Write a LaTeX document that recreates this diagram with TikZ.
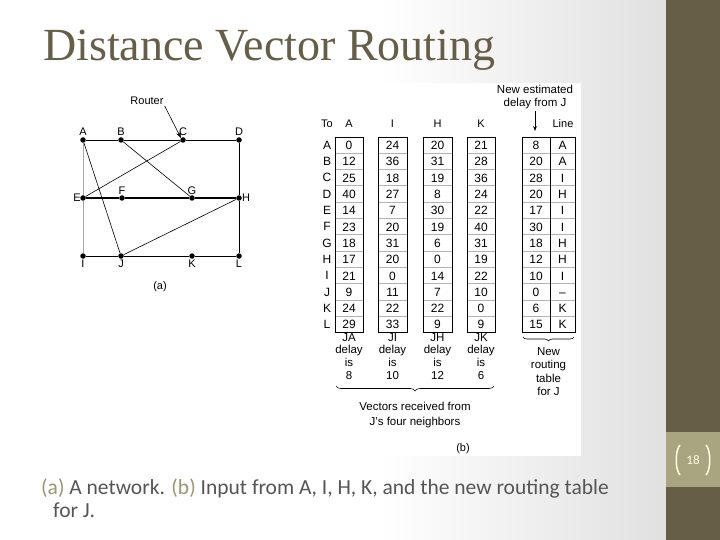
\documentclass[tikz,border=0pt]{standalone}
\usepackage{fontspec}
\setmainfont{Liberation Sans}
\newfontfamily\titlefont{Liberation Serif}
\newfontfamily\capfont{Carlito}
\usetikzlibrary{decorations.pathreplacing,arrows.meta}
\definecolor{olive}{HTML}{675E48}
\definecolor{oliveL}{HTML}{A8A580}
\definecolor{capgray}{HTML}{555555}
\definecolor{capolive}{HTML}{9C9670}
\begin{document}
\begin{tikzpicture}[x=1pt,y=-1pt,
  rt/.style={circle,fill=black,inner sep=0pt,minimum size=5.5pt},
  lab/.style={font=\fontsize{11}{12}\selectfont,inner sep=1pt},
  cell/.style={font=\fontsize{12}{12}\selectfont,inner sep=0pt,text height=8.6pt,text depth=0pt},
  link/.style={line width=0.6pt}]
\useasboundingbox (0,0) rectangle (720,540);
\fill[white] (0,0) rectangle (380,540);
\shade[left color=white,right color=white!88!black] (380,0) rectangle (666,540);
\fill[olive] (666,0) rectangle (720,540);
\fill[oliveL] (666,432) rectangle (720,487);
\node[text=white!90!yellow,font=\capfont\fontsize{13}{14}\selectfont] (pn) at (693,460) {18};
\draw[white!90!yellow,line width=1.5pt] (680,445) .. controls (675,450) and (675,470) .. (680,475);
\draw[white!90!yellow,line width=1.5pt] (706,445) .. controls (711,450) and (711,470) .. (706,475);
\fill[white] (300,83) rectangle (581,456);
\node[anchor=west,text=olive,font=\titlefont\fontsize{46}{48}\selectfont,inner sep=0pt] (title) at (43,50) {Distance Vector Routing};
% network
\foreach \n/\x/\y in {A/83/140,B/121/140,C/183/140,D/239/140,E/83/198,F/122/198,G/192/198,H/239/198,I/83/256,J/121/256,K/192/256,L/239/256}
  \node[rt] (\n) at (\x,\y) {};
\draw[link] (A)--(B)--(C)--(D)--(H)--(L)--(K)--(J)--(I);
\draw[link,gray!70] (A)--(E)--(I);
\draw[line width=1.4pt] (E)--(F)--(G)--(H);
\draw[link] (B)--(G) (C)--(E) (A)--(J) (J)--(H);
\foreach \n in {A,B,C,D} \node[lab,above=3pt] at (\n) {\n};
\node[lab,above=2pt] at (F) {F};
\node[lab,above=2pt] at (G) {G};
\node[lab,left=1pt] at (E) {E};
\node[lab,right=2pt] at (H) {H};
\foreach \n in {I,J,K,L} \node[lab,below=3pt] at (\n) {\n};
\node[lab] (router) at (147,101) {Router};
\draw[-{Stealth[length=6pt]},line width=0.6pt] (router.south east) -- (C.north west);
\node[lab] (la) at (160,287) {(a)};
% table
\node[lab] (to) at (327,124) {To};
\foreach \c/\xl/\xr in {A/335/363,I/378/407,H/423/452,K/467/495}
  \node[lab] at ({(\xl+\xr)/2},124) {\c};
\foreach \r [count=\i] in {A,B,C,D,E,F,G,H,I,J,K,L}
  \node[cell] at (327,{145+16.3*(\i-1)}) {\r};
\newcommand\colbox[2]{%
  \foreach \k in {1,...,11} \draw[gray!60,line width=0.8pt] (#1,{137+16.3*\k}) -- (#2,{137+16.3*\k});
  \draw[line width=0.7pt] (#1,137) rectangle (#2,332.6);}
\colbox{335}{363}\colbox{378}{407}\colbox{423}{452}\colbox{467}{495}\colbox{522}{575}
\draw[line width=0.7pt] (550,137) -- (550,332.6);
\newcommand\fillcol[2]{%
  \foreach \v [count=\i] in {#2} \node[cell] at (#1,{145.3+16.3*(\i-1)}) {\v};}
\fillcol{349}{0,12,25,40,14,23,18,17,21,9,24,29}
\fillcol{392.5}{24,36,18,27,7,20,31,20,0,11,22,33}
\fillcol{437.5}{20,31,19,8,30,19,6,0,14,7,22,9}
\fillcol{481}{21,28,36,24,22,40,31,19,22,10,0,9}
\fillcol{536}{8,20,28,20,17,30,18,12,10,0,6,15}
\fillcol{562.5}{A,A,I,H,I,I,H,H,I,--,K,K}
\foreach \t/\x/\d in {JA/349/8,JI/392.5/10,JH/437.5/12,JK/481/6}
  \node[lab,align=center,font=\fontsize{11.5}{12.8}\selectfont,anchor=north] at (\x,332) {\t\\delay\\is\\\d};
\draw[decorate,decoration={brace,mirror,amplitude=5pt},line width=0.6pt] (336,386) -- (494,386);
\node[lab,align=center,font=\fontsize{11.5}{14.5}\selectfont,anchor=north] (vr) at (415,401) {Vectors received from\\J's four neighbors};
\draw[decorate,decoration={brace,mirror,amplitude=4pt},line width=0.6pt] (523,337) -- (574,337);
\node[lab,align=center,font=\fontsize{11.5}{13.5}\selectfont,anchor=north] (nr) at (548.5,346) {New\\routing\\table\\for J};
\node[lab,align=center,font=\fontsize{11.5}{13}\selectfont] (ne) at (535,97) {New estimated\\delay from J};
\coordinate (arrEnd) at (535,131);
\draw[-{Stealth[length=5pt]},line width=0.6pt] (535,111) -- (arrEnd);
\node[lab] (line) at (563,124) {Line};
\node[lab] (lb) at (463,449) {(b)};
% caption
\node[anchor=north west,align=left,font=\capfont\fontsize{21.5}{23}\selectfont,text=capgray,inner sep=0pt] (cap) at (41,479)
  {\textcolor{capolive}{(a)} A network. \textcolor{capolive}{(b)} Input from A, I, H, K, and the new routing table\\\hspace*{12pt}for J.};
\end{tikzpicture}
\end{document}
